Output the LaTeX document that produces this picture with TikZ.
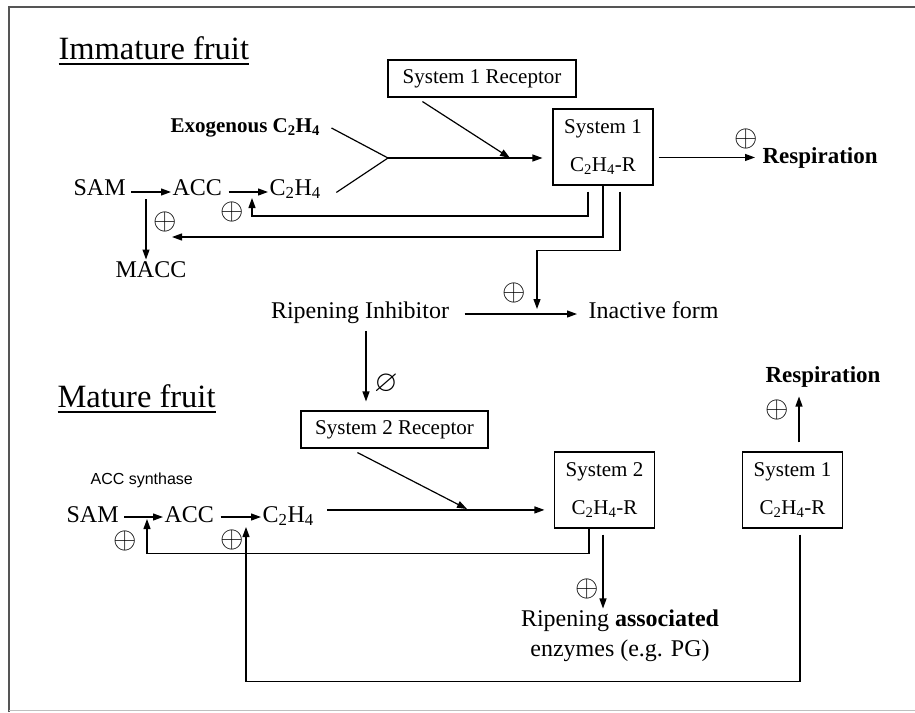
\documentclass[tikz,border=0pt]{standalone}
\usepackage{amssymb}
\usepackage{fontspec}
\setmainfont{Liberation Serif}
\newfontfamily\arialfont{Liberation Sans}
\usetikzlibrary{arrows.meta,positioning,calc}
\definecolor{FrameGray}{HTML}{555555}
\newcommand{\ethyl}{C\textsubscript{2}H\textsubscript{4}}
\newcommand{\plussign}{\scalebox{1.45}{$\oplus$}}
\newcommand{\nullsign}{\scalebox{1.5}{$\varnothing$}}

\begin{document}
\begin{tikzpicture}[x=1pt,y=-1pt,line width=1.2pt,
  txt/.style={font=\fontsize{24}{30}\selectfont,inner sep=1pt},
  boldtxt/.style={font=\bfseries\fontsize{23}{28}\selectfont,inner sep=1pt},
  hdr/.style={font=\fontsize{32.5}{38}\selectfont,anchor=base west,inner sep=0pt},
  sysbox/.style={draw,line width=1.1pt,minimum width=100pt,minimum height=76pt,inner sep=0pt,align=center,font=\fontsize{21}{38}\selectfont},
  recbox/.style={draw,line width=1.1pt,minimum height=37pt,inner sep=0pt,font=\fontsize{21}{26}\selectfont},
  sgn/.style={font=\fontsize{20}{24}\selectfont,inner sep=0pt},
  arr/.style={-{Triangle[length=10pt,width=7pt]}}]
\useasboundingbox (0,0) rectangle (915,712);
\draw[FrameGray] (9,712) -- (9,7) -- (915,7);
\draw[black!25,line width=1pt] (9,710) -- (915,710);

\node[hdr] (immat) at (58,59) {\underline{Immature fruit}};
\node[recbox,minimum width=188pt] (rec1) at (482,78.5) {System 1 Receptor};
\node[txt,font=\bfseries\fontsize{21}{26}\selectfont,anchor=west] (exo) at (169,128) {Exogenous \ethyl};
\node[txt,anchor=base west] (sam1) at (72,195) {SAM};
\node[txt,anchor=base west] (acc1) at (171,195) {ACC};
\node[txt,anchor=base west] (eth1) at (268,195) {\ethyl};
\node[txt,anchor=base] (macc) at (151,277) {MACC};
\node[sysbox] (sys1a) at (603,147) {System 1\\\ethyl-R};
\node[boldtxt,anchor=base west] (resp1) at (761,163) {Respiration};
\node[txt,anchor=base] (inhib) at (360,318) {Ripening Inhibitor};
\node[txt,anchor=base west] (inact) at (587,318) {Inactive form};

\node[hdr] (mat) at (57,407) {\underline{Mature fruit}};
\node[recbox,minimum width=187pt] (rec2) at (394.5,429.5) {System 2 Receptor};
\node[font=\arialfont\fontsize{16}{20}\selectfont,anchor=west,inner sep=0pt] (accs) at (90,480) {ACC synthase};
\node[txt,anchor=base west] (sam2) at (65,522) {SAM};
\node[txt,anchor=base west] (acc2) at (163,522) {ACC};
\node[txt,anchor=base west] (eth2) at (261,522) {\ethyl};
\node[sysbox] (sys2) at (604.5,490) {System 2\\\ethyl-R};
\node[sysbox] (sys1b) at (792.5,490) {System 1\\\ethyl-R};
\node[boldtxt,anchor=base] (resp2) at (823,382) {Respiration};
\node[txt,align=center] (enz) at (620,636) {Ripening \textbf{associated}\\enzymes (e.g. PG)};

\node[sgn] (p1) at (232,212) {\plussign};
\node[sgn] (p2) at (165,222) {\plussign};
\node[sgn] (p3) at (746,139) {\plussign};
\node[sgn] (p4) at (514,293) {\plussign};
\node[sgn] (nul) at (386,384) {\nullsign};
\node[sgn] (p5) at (125,541) {\plussign};
\node[sgn] (p6) at (232,540) {\plussign};
\node[sgn] (p7) at (587,589) {\plussign};
\node[sgn] (p8) at (777,410) {\plussign};

\coordinate (fork1) at (388,158);
\coordinate (m1) at (510,158);
\coordinate (m2) at (467,509);
\coordinate (fb1) at (252,198);
\coordinate (fb2) at (172,237);
\coordinate (fb3) at (537,309);
\coordinate (fb4) at (147,519);
\coordinate (fb5) at (246,527);
\coordinate (br1) at (146,199);

\draw[arr,shorten <=4pt] ([yshift=3pt]sam1.base east) -- ([yshift=3pt]acc1.base west);
\draw[arr,shorten <=5pt] ([yshift=3pt]acc1.base east) -- ([yshift=3pt]eth1.base west);
\draw[arr] (br1) -- (br1 |- macc.north);
\draw ([xshift=10pt]exo.east) -- (fork1);
\draw ([xshift=14pt,yshift=-3.5pt]eth1.east) -- (fork1);
\draw[arr,shorten >=10pt] (fork1) -- (sys1a.west |- fork1);
\draw[arr] ([xshift=35pt,yshift=-4pt]rec1.south west) -- (m1);
\draw[arr,shorten <=5pt,shorten >=6pt] (sys1a.east |- resp1.west) -- (resp1.west);
\draw[arr] ([xshift=-15pt,yshift=-6pt]sys1a.south) |- ([yshift=-18pt]fb1) -- (fb1);
\draw[arr] (sys1a.south) |- (fb2);
\draw[arr] ([xshift=17pt,yshift=-6pt]sys1a.south) -- ++(0,59) -| (fb3);
\draw[arr,shorten <=14pt,shorten >=10pt] ([yshift=4pt]inhib.base east) -- ([yshift=4pt]inact.base west);
\draw[arr,shorten <=6pt,shorten >=9pt] ([xshift=6pt]inhib.south) -- ([xshift=6pt]inhib.south |- rec2.north);

\draw[arr,shorten <=4pt] ([yshift=5pt]sam2.base east) -- ([yshift=5pt]acc2.base west);
\draw[arr,shorten <=5pt] ([yshift=5pt]acc2.base east) -- ([yshift=5pt]eth2.base west);
\draw[arr,shorten <=12pt,shorten >=9.5pt] ([yshift=6pt]eth2.east) -- ([yshift=6pt]eth2.east -| sys2.west);
\draw[arr] ([xshift=57pt,yshift=-4pt]rec2.south west) -- (m2);
\draw[arr] ([xshift=-15.5pt]sys2.south) -- ++(0,25) -| (fb4);
\draw[arr] ([xshift=7.5pt,yshift=-6pt]sys1b.south) -- ++(0,147) -| (fb5);
\draw[arr] ([xshift=-1.5pt,yshift=-6pt]sys2.south) -- ([xshift=-1.5pt]sys2.south |- enz.north);
\draw[arr,shorten <=9pt,shorten >=8pt] ([xshift=6.5pt]sys1b.north) -- ([xshift=6.5pt]sys1b.north |- resp2.south);
\end{tikzpicture}
\end{document}
